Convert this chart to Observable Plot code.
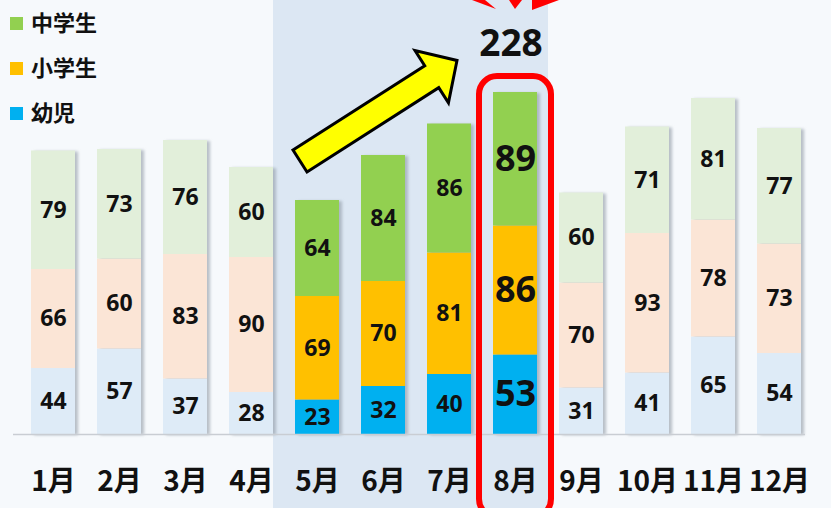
<!DOCTYPE html>
<html><head><meta charset="utf-8">
<script src="https://cdn.jsdelivr.net/npm/d3@7"></script>
<script src="https://cdn.jsdelivr.net/npm/@observablehq/plot@0.6"></script>
<style>
html,body{margin:0;padding:0;background:#f6f9fc;}
#chart svg{display:block;}
</style></head><body><div id="chart"></div>
<script>
const months = ["1月","2月","3月","4月","5月","6月","7月","8月","9月","10月","11月","12月"];
const series = ["幼児","小学生","中学生"];
const infant     = [44,57,37,28,23,32,40,53,31,41,65,54];
const elementary = [66,60,83,90,69,70,81,86,70,93,78,73];
const junior     = [79,73,76,60,64,84,86,89,60,71,81,77];
const highlightMonths = ["5月","6月","7月","8月"];
const focusMonth = "8月";
const legendItems = ["中学生","小学生","幼児"];

const strongColors = {"幼児":"#00b0f0","小学生":"#ffc000","中学生":"#92d050"};
const paleColors   = {"幼児":"#deebf7","小学生":"#fbe5d6","中学生":"#e2efda"};

const rows = [];
months.forEach((m, i) => {
  const vals = {"幼児": infant[i], "小学生": elementary[i], "中学生": junior[i]};
  series.forEach(s => rows.push({month: m, series: s, value: vals[s], hi: highlightMonths.includes(m)}));
});
const totals = months.map((m, i) => ({month: m, total: infant[i] + elementary[i] + junior[i]}));
const focusTotal = totals.find(d => d.month === focusMonth).total;

const W = 831, H = 508;
const numFont = "'Open Sans', 'DejaVu Sans', sans-serif";
const cjkFont = "'Noto Sans CJK JP', 'Noto Sans', sans-serif";

const plot = Plot.plot({
  width: W, height: H,
  marginLeft: 20, marginRight: 19, marginTop: 92, marginBottom: 74,
  style: {background: "transparent", overflow: "visible"},
  x: {domain: months, paddingInner: 1/3, paddingOuter: 1/6, axis: null},
  y: {domain: [0, focusTotal], axis: null},
  color: {type: "identity"},
  marks: [
    Plot.barY(totals, {x: "month", y: "total", fill: "#8e98a4", fillOpacity: 0.6, dx: 3, dy: 1}),
    Plot.barY(rows, Plot.stackY({
      x: "month", y: "value", z: "series", order: series,
      fill: d => (d.hi ? strongColors : paleColors)[d.series]
    })),
    Plot.ruleY([0], {stroke: "#c9cdd3", strokeWidth: 1.5, dx: -7}),
    Plot.text(rows, Plot.stackY({
      x: "month", y: "value", z: "series", order: series,
      text: d => String(d.value),
      fontSize: d => d.month === focusMonth ? 36 : 23,
      fontWeight: "bold", fill: "#111",
      fontFamily: numFont
    })),
    Plot.text(months, {
      x: d => d, frameAnchor: "bottom", dy: 56, text: d => d,
      fontSize: 28, fontWeight: "bold", fill: "#111", fontFamily: cjkFont
    })
  ]
});

document.getElementById("chart").appendChild(plot);

// annotations computed from the plot's scales
const svg = d3.select(plot);
const xs = plot.scale("x"), ys = plot.scale("y");
const X = v => xs.apply(v);
const Y = v => ys.apply(v);
const bw = xs.bandwidth, step = xs.step;

// blur filter for bar shadows
const defs = svg.insert("defs", ":first-child");
defs.append("filter").attr("id", "shadowBlur").attr("x", "-20%").attr("width", "140%")
  .append("feGaussianBlur").attr("stdDeviation", 1.6);
const barGroups = plot.querySelectorAll('g[aria-label="bar"]');
if (barGroups[0]) barGroups[0].setAttribute("filter", "url(#shadowBlur)");

// highlight band behind bars
const hx0 = X(highlightMonths[0]) - (step - bw);
const hx1 = X(highlightMonths[highlightMonths.length - 1]) + bw + (step - bw) / 2;
svg.insert("rect", "g")
  .attr("x", hx0).attr("y", 0).attr("width", hx1 - hx0).attr("height", H)
  .attr("fill", "#dce7f3");

const annot = svg.append("g");
const fx = X(focusMonth) + bw / 2;

// red rounded frame around focus month
annot.append("rect")
  .attr("x", fx - 36).attr("y", Y(focusTotal) - 16)
  .attr("width", 72).attr("height", H - Y(focusTotal) + 25)
  .attr("rx", 18).attr("fill", "none").attr("stroke", "#ff0000").attr("stroke-width", 6);

// total label
annot.append("text").attr("x", fx - 4).attr("y", 56)
  .attr("text-anchor", "middle").attr("font-family", numFont)
  .attr("font-weight", "bold").attr("font-size", 37).attr("fill", "#111")
  .text(String(focusTotal));

// red burst marks
const burst = [
  [[fx - 43, 0], [fx - 30, 0], [fx - 19, 9]],
  [[fx - 6, 0], [fx + 7, 0], [fx, 9]],
  [[fx + 17, 0], [fx + 44, 0], [fx + 17, 10]]
];
burst.forEach(p => annot.append("polygon").attr("points", p.map(q => q.join(",")).join(" ")).attr("fill", "#ff0000"));

// yellow block arrow
const tail = [X(highlightMonths[0]) + bw / 2 - 17, Y(182)];
const tip = [X(focusMonth) - 36, Y(249)];
const dxA = tip[0] - tail[0], dyA = tip[1] - tail[1];
const len = Math.hypot(dxA, dyA);
const u = [dxA / len, dyA / len], n = [-u[1], u[0]];
const hb = 13, hh = 31, hl = 30;
const pt = (a, b) => [tail[0] + u[0] * a + n[0] * b, tail[1] + u[1] * a + n[1] * b];
const arrowPts = [pt(0, -hb), pt(len - hl, -hb), pt(len - hl, -hh), pt(len, 0), pt(len - hl, hh), pt(len - hl, hb), pt(0, hb)];
annot.append("polygon").attr("points", arrowPts.map(q => q.join(",")).join(" "))
  .attr("fill", "#ffff00").attr("stroke", "#000").attr("stroke-width", 3).attr("stroke-linejoin", "miter");

// legend
const lg = annot.append("g").attr("text-anchor", "start");
legendItems.forEach((s, i) => {
  const cy = 23 + i * 45;
  lg.append("rect").attr("x", 10).attr("y", cy - 6).attr("width", 13).attr("height", 13).attr("fill", strongColors[s]);
  lg.append("text").attr("x", 31).attr("y", cy).attr("dy", "0.36em").attr("text-anchor", "start")
    .attr("font-family", cjkFont).attr("font-weight", "bold").attr("font-size", 22).attr("fill", "#111")
    .text(s);
});
</script></body></html>
